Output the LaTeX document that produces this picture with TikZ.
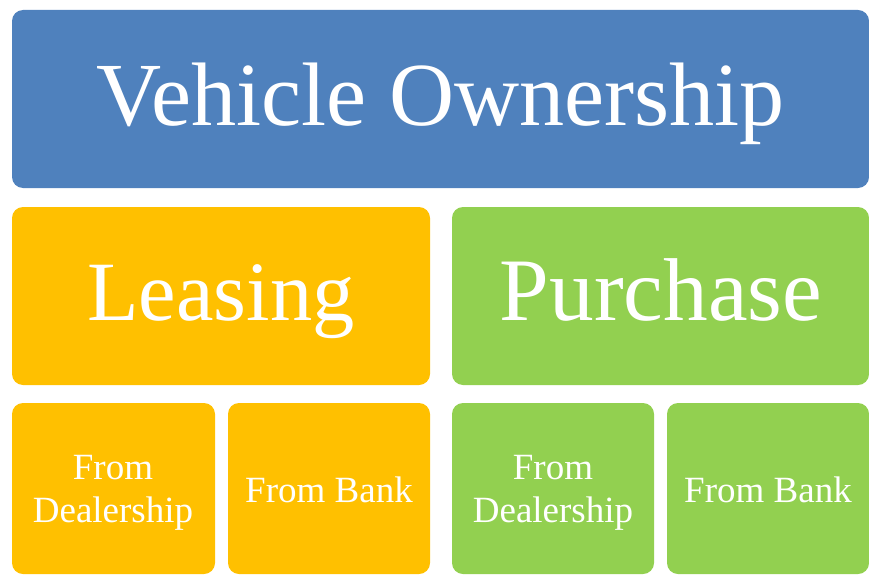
\documentclass[tikz,border=0pt]{standalone}
\usepackage{fontspec}
\setmainfont{Liberation Serif}
\definecolor{cblue}{HTML}{4F81BD}
\definecolor{corange}{HTML}{FFC000}
\definecolor{cgreen}{HTML}{92D050}
\tikzset{
  tile/.style={rounded corners=11pt, inner sep=0pt, text=white, align=center},
  small/.style={tile, font=\fontsize{37}{43}\selectfont},
}
\begin{document}
\begin{tikzpicture}[x=1pt,y=-1pt]
\useasboundingbox (0,0) rectangle (869,575);
% boxes
\fill[cblue,rounded corners=11pt] (12,10) rectangle (869,188);
\node[tile,anchor=base] (own) at (440.5,125) {\resizebox{688pt}{!}{Vehicle Ownership}};
\fill[corange,rounded corners=11pt] (12,207) rectangle (430,385);
\node[tile,anchor=base] (lease) at (221,320) {\resizebox{267pt}{!}{Leasing}};
\fill[cgreen,rounded corners=11pt] (452,207) rectangle (869,385);
\node[tile,anchor=base] (purch) at (661,320) {\resizebox{322pt}{!}{Purchase}};
\fill[corange,rounded corners=11pt] (12,403) rectangle (215,574);
\fill[corange,rounded corners=11pt] (228,403) rectangle (430,574);
\fill[cgreen,rounded corners=11pt] (452,403) rectangle (654,574);
\fill[cgreen,rounded corners=11pt] (667,403) rectangle (869,574);
\node[small] (ld) at (113,493) {From\\Dealership};
\node[small] (lb) at (329,490) {From Bank};
\node[small] (pd) at (553,493) {From\\Dealership};
\node[small] (pb) at (768,490) {From Bank};
\end{tikzpicture}
\end{document}
